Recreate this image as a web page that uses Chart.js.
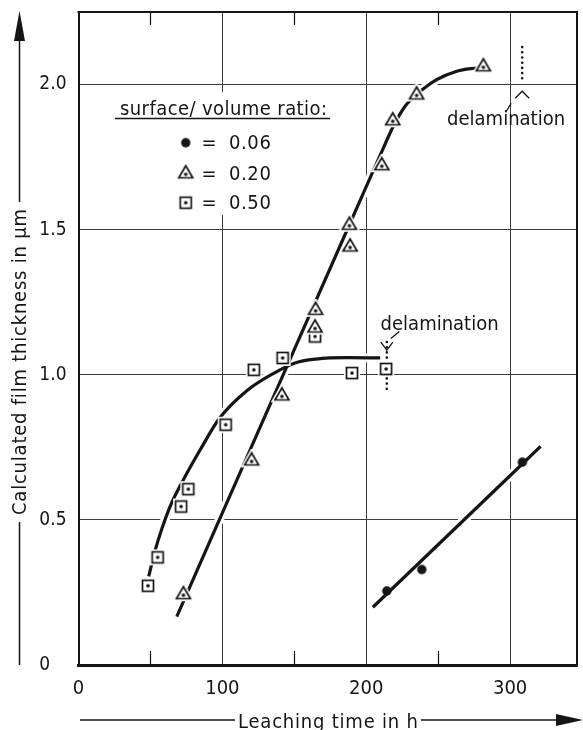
<!DOCTYPE html>
<html>
<head>
<meta charset="utf-8">
<script src="https://cdn.jsdelivr.net/npm/chart.js@4.4.0/dist/chart.umd.min.js"></script>
<style>
  html, body { margin: 0; padding: 0; background: #fff; }
  #wrap { position: relative; width: 583px; height: 730px; }
</style>
</head>
<body>
<div id="wrap"><canvas id="c" width="583" height="730"></canvas></div>
<script>
// Measured film thickness (µm) against leaching time (h), one pair of arrays per surface/volume ratio
const ratio006Time  = [214.3, 238.6, 308.5];
const ratio006Thick = [0.255, 0.329, 0.699];
const ratio020Time  = [72.9, 120.3, 141.4, 164.4, 164.8, 188.8, 188.3, 210.8, 218.4, 235.0, 281.4];
const ratio020Thick = [0.244, 0.705, 0.929, 1.163, 1.224, 1.442, 1.517, 1.722, 1.877, 1.966, 2.063];
const ratio050Time  = [48.3, 55.0, 71.3, 76.3, 102.3, 121.9, 141.9, 164.4, 190.1, 213.8];
const ratio050Thick = [0.273, 0.371, 0.546, 0.606, 0.828, 1.017, 1.058, 1.132, 1.006, 1.020];

// Hand-drawn trend curves through each series
const trend006Time  = [204.6, 321.2];
const trend006Thick = [0.199, 0.753];
const trend020Time  = [68.3, 145.3, 188.3, 210.0, 219.0, 227.0, 236.0, 249.0, 263.0, 277.5];
const trend020Thick = [0.167, 1.034, 1.517, 1.760, 1.858, 1.925, 1.970, 2.017, 2.046, 2.058];
const trend050Time  = [48.8, 53.0, 58.0, 64.0, 72.0, 85.0, 98.0, 117.0, 136.0, 150.0, 165.0, 187.0, 209.7];
const trend050Thick = [0.305, 0.390, 0.470, 0.550, 0.630, 0.745, 0.850, 0.945, 1.006, 1.040, 1.054, 1.059, 1.058];

// Delamination marks: dotted cut-off line, caret tip and label anchor (upper = 0.20, lower = 0.50)
const delamTime      = [308.4, 214.3];
const delamDotTop    = [2.129, 1.113];
const delamDotBottom = [2.004, 0.936];
const delamCaret     = [1.977, 1.085];
const delamTextTime  = [256.2, 210.0];
const delamTextThick = [1.859, 1.156];
const delamLabel = 'delamination';

// Axes
const timeTicks      = [0, 100, 200, 300];
const timeMinorTicks = [50, 150, 250];
const thickTicks     = [0, 0.5, 1.0, 1.5, 2.0];
const timeTitle  = 'Leaching time in h';
const thickTitle = 'Calculated film thickness in µm';

// Legend
const legendTitle  = 'surface/ volume ratio:';
const legendRatios = ['0.06', '0.20', '0.50'];

const FONT = '"DejaVu Sans Condensed", "DejaVu Sans", sans-serif';
const INK = '#151515';
const GRID = '#3c3c3c';

// Open marker with a centre dot: square
function squareMarker() {
  const c = document.createElement('canvas');
  c.width = 18; c.height = 18;
  const g = c.getContext('2d');
  g.fillStyle = '#fff';
  g.fillRect(1, 1, 16, 16);
  g.strokeStyle = INK; g.lineWidth = 1.7;
  g.strokeRect(3.5, 3.5, 11, 11);
  g.fillStyle = INK;
  g.beginPath(); g.arc(9, 9, 1.8, 0, Math.PI * 2); g.fill();
  return c;
}
// Open marker with a centre dot: triangle (centroid at canvas centre)
function triangleMarker() {
  const c = document.createElement('canvas');
  c.width = 22; c.height = 22;
  const g = c.getContext('2d');
  const cx = 11, cy = 11.5, h = 12, half = 7;
  const path = () => {
    g.beginPath();
    g.moveTo(cx, cy - h * 2 / 3);
    g.lineTo(cx + half, cy + h / 3);
    g.lineTo(cx - half, cy + h / 3);
    g.closePath();
  };
  g.lineJoin = 'miter';
  path(); g.strokeStyle = '#fff'; g.lineWidth = 5; g.stroke();
  g.fillStyle = '#fff'; g.fill();
  path(); g.strokeStyle = INK; g.lineWidth = 1.7; g.stroke();
  g.fillStyle = INK;
  g.beginPath(); g.arc(cx, cy + 0.5, 1.8, 0, Math.PI * 2); g.fill();
  return c;
}
// Solid dot
function dotMarker() {
  const c = document.createElement('canvas');
  c.width = 12; c.height = 12;
  const g = c.getContext('2d');
  g.fillStyle = INK;
  g.beginPath(); g.arc(6, 6, 4.7, 0, Math.PI * 2); g.fill();
  return c;
}
const MARK_SQUARE = squareMarker();
const MARK_TRIANGLE = triangleMarker();
const MARK_DOT = dotMarker();
const legendMarks = [MARK_DOT, MARK_TRIANGLE, MARK_SQUARE];

const toXY = (xs, ys) => xs.map((x, i) => ({ x, y: ys[i] }));

const halo = (xs, ys) => ({
  type: 'line', data: toXY(xs, ys), borderColor: '#fff', borderWidth: 9,
  pointRadius: 0, cubicInterpolationMode: 'monotone', order: 4
});
const curve = (xs, ys) => ({
  type: 'line', data: toXY(xs, ys), borderColor: INK, borderWidth: 3.2,
  pointRadius: 0, cubicInterpolationMode: 'monotone', order: 3
});
const marks = (xs, ys, img) => ({
  type: 'scatter', data: toXY(xs, ys), showLine: false,
  pointStyle: img, pointRadius: 5, order: 1
});
const dotted = (i) => ({
  type: 'line', data: [{ x: delamTime[i], y: delamDotTop[i] }, { x: delamTime[i], y: delamDotBottom[i] }],
  borderColor: INK, borderWidth: 2.6, borderDash: [0, 5.2], borderCapStyle: 'round',
  pointRadius: 0, order: 2
});

const datasets = [
  halo(trend006Time, trend006Thick),
  halo(trend020Time, trend020Thick),
  halo(trend050Time, trend050Thick),
  curve(trend006Time, trend006Thick),
  curve(trend020Time, trend020Thick),
  curve(trend050Time, trend050Thick),
  dotted(0), dotted(1),
  marks(ratio006Time, ratio006Thick, MARK_DOT),
  marks(ratio020Time, ratio020Thick, MARK_TRIANGLE),
  marks(ratio050Time, ratio050Thick, MARK_SQUARE)
];

function arrowHead(ctx, tipX, tipY, dx, dy, len, half) {
  // dx,dy: unit direction of the arrow
  const bx = tipX - dx * len, by = tipY - dy * len;
  ctx.beginPath();
  ctx.moveTo(tipX, tipY);
  ctx.lineTo(bx - dy * half, by + dx * half);
  ctx.lineTo(bx + dy * half, by - dx * half);
  ctx.closePath();
  ctx.fill();
}

// spread a text run so that it spans the given width
function spaced(ctx, text, width) {
  ctx.letterSpacing = '0px';
  const w = ctx.measureText(text).width;
  const s = Math.max(0, (width - w) / Math.max(1, text.length - 1));
  ctx.letterSpacing = s.toFixed(2) + 'px';
  return ctx.measureText(text).width - s;
}

const decorations = {
  id: 'decorations',
  beforeDatasetsDraw(chart) {
    const { ctx, chartArea: a } = chart;
    // white panel under the key
    ctx.save();
    ctx.fillStyle = '#fff';
    ctx.fillRect(a.left + 32, a.top + 80, 228, 123);
    ctx.restore();
  },
  afterDraw(chart) {
    const { ctx, chartArea: a, scales } = chart;
    const sx = scales.x, sy = scales.y;
    ctx.save();
    ctx.strokeStyle = INK; ctx.fillStyle = INK;

    // top and right frame
    ctx.lineWidth = 2;
    ctx.beginPath();
    ctx.moveTo(a.left - 1, a.top); ctx.lineTo(a.right, a.top); ctx.lineTo(a.right, a.bottom);
    ctx.stroke();

    // half-step ticks on top and bottom edges
    ctx.lineWidth = 1.2;
    timeMinorTicks.forEach(v => {
      const px = Math.round(sx.getPixelForValue(v)) + 0.5;
      ctx.beginPath();
      ctx.moveTo(px, a.bottom); ctx.lineTo(px, a.bottom - 14);
      ctx.moveTo(px, a.top); ctx.lineTo(px, a.top + 13);
      ctx.stroke();
    });

    // key
    ctx.font = '20px ' + FONT;
    ctx.textBaseline = 'alphabetic';
    ctx.textAlign = 'left';
    const tx = a.left + 41.5, ty = a.top + 103;
    spaced(ctx, legendTitle, 207);
    ctx.fillText(legendTitle, tx, ty);
    ctx.letterSpacing = '0px';
    ctx.lineWidth = 1.5;
    ctx.beginPath();
    ctx.moveTo(a.left + 36.5, a.top + 106.5); ctx.lineTo(a.left + 251.5, a.top + 106.5);
    ctx.stroke();
    const rows = [130.7, 161.3, 190.7];
    legendRatios.forEach((r, i) => {
      const ry = a.top + rows[i];
      const m = legendMarks[i];
      ctx.drawImage(m, a.left + 107.2 - m.width / 2, ry - m.height / 2);
      ctx.textBaseline = 'middle';
      ctx.textAlign = 'center';
      ctx.fillText('=', a.left + 130.5, ry + 1);
      ctx.textAlign = 'left';
      ctx.letterSpacing = '0.6px';
      ctx.fillText(r, a.left + 150.5, ry + 1);
      ctx.letterSpacing = '0px';
    });

    // delamination notes
    ctx.font = '20px ' + FONT;
    ctx.textBaseline = 'alphabetic';
    ctx.textAlign = 'left';
    ctx.lineWidth = 1.3;
    delamTime.forEach((t, i) => {
      const cx = sx.getPixelForValue(t), cy = sy.getPixelForValue(delamCaret[i]);
      ctx.beginPath();
      if (i === 0) {
        ctx.moveTo(cx - 7, cy + 7); ctx.lineTo(cx, cy); ctx.lineTo(cx + 7, cy + 7);
        ctx.moveTo(cx - 16.5, cy + 21); ctx.lineTo(cx - 11, cy + 12);
      } else {
        ctx.moveTo(cx - 6, cy - 8); ctx.lineTo(cx, cy); ctx.lineTo(cx + 6, cy - 8);
        ctx.moveTo(cx + 4, cy - 11.5); ctx.lineTo(cx + 12.5, cy - 18.5);
      }
      ctx.stroke();
      spaced(ctx, delamLabel, 114);
      ctx.fillText(delamLabel, sx.getPixelForValue(delamTextTime[i]), sy.getPixelForValue(delamTextThick[i]));
      ctx.letterSpacing = '0px';
    });

    // horizontal axis title with arrow line
    ctx.font = '20px ' + FONT;
    ctx.textAlign = 'left';
    ctx.textBaseline = 'alphabetic';
    const xl = 238, xb = 728, ly = 720;
    const wx = spaced(ctx, timeTitle, 180);
    ctx.fillText(timeTitle, xl, xb);
    ctx.letterSpacing = '0px';
    ctx.lineWidth = 1.5;
    ctx.beginPath();
    ctx.moveTo(a.left + 1.5, ly); ctx.lineTo(xl - 3, ly);
    ctx.moveTo(xl + wx + 3, ly); ctx.lineTo(560, ly);
    ctx.stroke();
    arrowHead(ctx, 583, ly, 1, 0, 27, 6);

    // vertical axis title with arrow line
    const vx = 21, vbottom = 515;
    ctx.save();
    ctx.translate(vx, vbottom);
    ctx.rotate(-Math.PI / 2);
    ctx.textAlign = 'left';
    ctx.textBaseline = 'middle';
    const wy = spaced(ctx, thickTitle, 306);
    ctx.fillText(thickTitle, 0, 0);
    ctx.restore();
    ctx.beginPath();
    ctx.moveTo(vx - 1.5, vbottom + 7); ctx.lineTo(vx - 1.5, a.bottom);
    ctx.moveTo(vx - 1.5, vbottom - wy - 7); ctx.lineTo(vx - 1.5, 38);
    ctx.stroke();
    arrowHead(ctx, vx - 1.5, 11, 0, -1, 30, 5.5);

    ctx.restore();
  }
};

new Chart(document.getElementById('c'), {
  data: { datasets },
  options: {
    responsive: false,
    animation: false,
    devicePixelRatio: 1,
    layout: { padding: { top: 12, right: 2, left: 0, bottom: 0 } },
    plugins: { legend: { display: false }, tooltip: { enabled: false } },
    scales: {
      x: {
        type: 'linear', min: 0, max: 346.5,
        afterBuildTicks: s => { s.ticks = timeTicks.map(v => ({ value: v })); },
        afterFit: s => { s.height = 65; s.paddingLeft = 0; s.paddingRight = 0; },
        grid: { color: GRID, lineWidth: 1, drawTicks: false },
        border: { color: INK, width: 3 },
        ticks: {
          color: INK, font: { family: FONT, size: 20 }, padding: 12,
          maxRotation: 0, autoSkip: false, callback: v => String(v)
        }
      },
      y: {
        type: 'linear', min: 0, max: 2.25,
        afterBuildTicks: s => { s.ticks = thickTicks.map(v => ({ value: v })); },
        afterFit: s => { s.width = 78.5; s.paddingTop = 0; s.paddingBottom = 0; },
        grid: { color: GRID, lineWidth: 1, drawTicks: false },
        border: { color: INK, width: 2 },
        ticks: {
          color: INK, font: { family: FONT, size: 19 }, padding: 12,
          autoSkip: false,
          callback: v => (v === 0 ? '0\u2008\u2007' : v.toFixed(1))
        }
      }
    }
  },
  plugins: [decorations]
});
</script>
</body>
</html>
